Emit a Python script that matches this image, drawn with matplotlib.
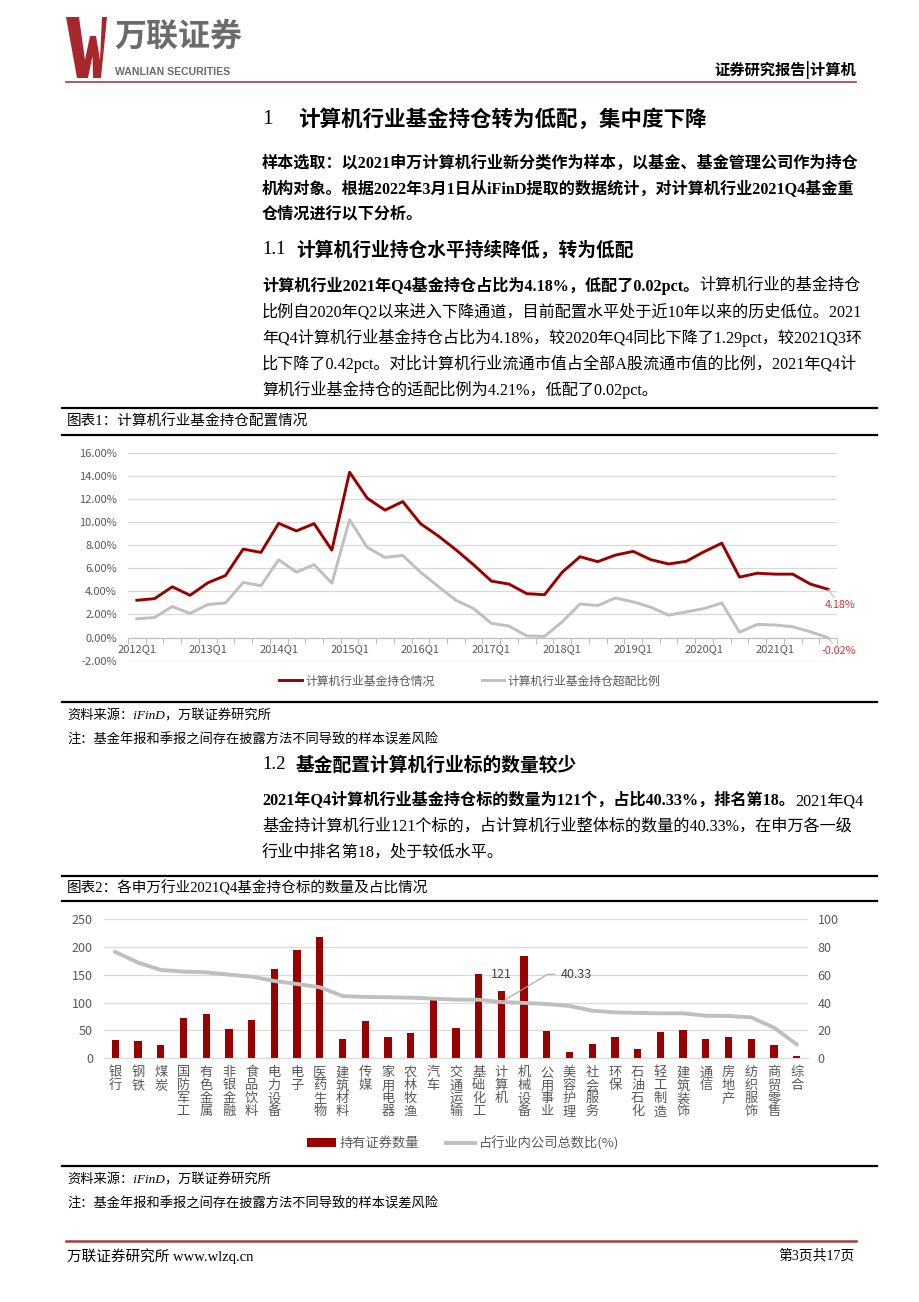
import matplotlib
matplotlib.use("Agg")
import matplotlib.pyplot as plt
from matplotlib.lines import Line2D
from matplotlib.patches import Polygon
import numpy as np

plt.rcParams['font.family'] = ['Noto Sans CJK SC', 'DejaVu Sans']
plt.rcParams['axes.unicode_minus'] = False

# --- 数据: 图表1 计算机行业基金持仓配置情况 (%) ---
quarter_ticks = [0, 4, 8, 12, 16, 20, 24, 28, 32, 36]
quarter_labels = ["2012Q1", "2013Q1", "2014Q1", "2015Q1", "2016Q1",
                  "2017Q1", "2018Q1", "2019Q1", "2020Q1", "2021Q1"]
hold_pct = [3.23, 3.37, 4.40, 3.66, 4.74, 5.37, 7.66, 7.37, 9.89, 9.23,
            9.86, 7.57, 14.31, 12.06, 11.03, 11.77, 9.86, 8.80, 7.60, 6.30,
            4.89, 4.63, 3.80, 3.71, 5.66, 7.00, 6.57, 7.14, 7.46, 6.74,
            6.37, 6.60, 7.43, 8.17, 5.23, 5.57, 5.49, 5.49, 4.63, 4.18]
over_pct = [1.63, 1.74, 2.69, 2.09, 2.86, 3.00, 4.77, 4.49, 6.74, 5.66,
            6.31, 4.71, 10.20, 7.80, 6.94, 7.11, 5.66, 4.43, 3.23, 2.51,
            1.23, 1.00, 0.14, 0.11, 1.37, 2.91, 2.77, 3.43, 3.09, 2.63,
            1.94, 2.23, 2.51, 3.00, 0.46, 1.14, 1.09, 0.94, 0.51, -0.02]

# --- 数据: 图表2 各申万行业2021Q4基金持仓标的数量及占比 ---
industries = ["银行", "钢铁", "煤炭", "国防军工", "有色金属", "非银金融", "食品饮料",
              "电力设备", "电子", "医药生物", "建筑材料", "传媒", "家用电器", "农林牧渔",
              "汽车", "交通运输", "基础化工", "计算机", "机械设备", "公用事业", "美容护理",
              "社会服务", "环保", "石油石化", "轻工制造", "建筑装饰", "通信", "房地产",
              "纺织服饰", "商贸零售", "综合"]
holdings = [32, 30, 24, 72, 79, 52, 69, 160, 194, 218, 34, 66, 38, 45, 105, 54,
            151, 121, 184, 49, 11, 26, 38, 16, 46, 50, 35, 38, 35, 23, 4]
ratio = [76.4, 68.8, 63.5, 62.3, 61.8, 60.1, 58.7, 55.5, 53.4, 51.0, 44.7, 44.0,
         43.8, 43.5, 42.8, 42.1, 42.0, 40.33, 39.7, 38.9, 37.5, 34.1, 32.9, 32.5,
         32.2, 32.2, 30.5, 30.3, 29.3, 21.9, 9.9]

W, H = 920, 1302
BODY = ['Liberation Serif', 'Noto Sans CJK SC']
RED = '#990000'
GREY = '#bfbfbf'
TICK = '#595959'

fig = plt.figure(figsize=(W / 100, H / 100), dpi=100)
renderer = fig.canvas.get_renderer()


def fx(x):
    return x / W


def fy(y):
    return 1 - y / H


def rule(y, x0, x1, color='black', lw=1.6):
    fig.add_artist(Line2D([fx(x0), fx(x1)], [fy(y), fy(y)], transform=fig.transFigure,
                          color=color, lw=lw))


def line_text(x, y, segs, size=11.6, family=BODY):
    # una riga con pezzi in grassetto e normali
    for s, bold in segs:
        t = fig.text(fx(x), fy(y), s, fontsize=size, family=family, va='center', ha='left',
                     fontweight='bold' if bold else 'normal', color='black')
        x = t.get_window_extent(renderer).x1


# --- Intestazione ---
logo = [(66, 17), (79, 17), (85, 60), (90, 36), (96, 36), (100, 60), (102, 17),
        (107, 17), (101, 78), (93, 78), (92.5, 56), (88, 78), (77, 78)]
fig.add_artist(Polygon([(fx(a), fy(b)) for a, b in logo], closed=True,
                       transform=fig.transFigure, color='#a8272d', lw=0))
fig.text(fx(114), fy(37), "万联证券", fontsize=23, fontweight='bold', color='#6b6b6b',
         va='center', ha='left')
fig.text(fx(115), fy(72), "WANLIAN SECURITIES", fontsize=7.6, fontweight='bold',
         color='#6b6b6b', family='Liberation Sans', va='center', ha='left')
fig.text(fx(856), fy(70), "证券研究报告|计算机", fontsize=11, fontweight='bold',
         va='center', ha='right')
rule(82, 66, 856, color='#a0403f', lw=1.2)

# --- Testo ---
fig.text(fx(262), fy(119), "1", fontsize=15.5, family='Liberation Serif', va='center')
fig.text(fx(298), fy(119), "计算机行业基金持仓转为低配，集中度下降", fontsize=15.5,
         fontweight='bold', va='center')

line_text(262, 164, [("样本选取：以2021申万计算机行业新分类作为样本，以基金、基金管理公司作为持仓", True)])
line_text(262, 190, [("机构对象。根据2022年3月1日从iFinD提取的数据统计，对计算机行业2021Q4基金重", True)])
line_text(262, 215, [("仓情况进行以下分析。", True)])

fig.text(fx(262), fy(250), "1.1", fontsize=13.5, family='Liberation Serif', va='center')
fig.text(fx(296), fy(250), "计算机行业持仓水平持续降低，转为低配", fontsize=13.5,
         fontweight='bold', va='center')

line_text(262, 286, [("计算机行业2021年Q4基金持仓占比为4.18%，低配了0.02pct。", True),
                     ("计算机行业的基金持仓", False)])
line_text(262, 312, [("比例自2020年Q2以来进入下降通道，目前配置水平处于近10年以来的历史低位。2021", False)])
line_text(262, 338, [("年Q4计算机行业基金持仓占比为4.18%，较2020年Q4同比下降了1.29pct，较2021Q3环", False)])
line_text(262, 364, [("比下降了0.42pct。对比计算机行业流通市值占全部A股流通市值的比例，2021年Q4计", False)])
line_text(262, 390, [("算机行业基金持仓的适配比例为4.21%，低配了0.02pct。", False)])

# --- Riquadro grafico 1 ---
rule(408, 62, 877)
fig.text(fx(67), fy(422), "图表1：计算机行业基金持仓配置情况", fontsize=10.5, family=BODY,
         va='center')
rule(435, 62, 877)

ax1 = fig.add_axes([fx(128), fy(660.7), (837 - 128) / W, 208 / H])
x = np.arange(len(hold_pct))
l1, = ax1.plot(x, hold_pct, color=RED, lw=2.1, label="计算机行业基金持仓情况")
l2, = ax1.plot(x, over_pct, color=GREY, lw=2.1, label="计算机行业基金持仓超配比例")
ax1.set_xlim(-0.5, 39.5)
ax1.set_ylim(-2, 16)
ax1.set_yticks(np.arange(-2, 17, 2))
ax1.set_yticklabels([f"{v:.2f}%" for v in np.arange(-2, 17, 2)])
ax1.set_xticks(quarter_ticks)
ax1.set_xticklabels(quarter_labels)
ax1.set_xticks(np.arange(-0.5, 40, 1), minor=True)
ax1.tick_params(axis='x', which='major', length=0, pad=5, labelsize=8, labelcolor=TICK)
ax1.tick_params(axis='x', which='minor', length=4, color=GREY, width=0.8)
ax1.tick_params(axis='y', length=0, pad=8, labelsize=8, labelcolor=TICK)
for s in ['top', 'right', 'left']:
    ax1.spines[s].set_visible(False)
ax1.spines['bottom'].set_position(('data', 0))
ax1.spines['bottom'].set_color(GREY)
ax1.yaxis.grid(True, color='#d9d9d9', lw=0.9)
ax1.set_axisbelow(True)
ax1.annotate(f"{hold_pct[-1]:.2f}%", xy=(39, hold_pct[-1]), xytext=(8.6, -11.5),
             textcoords='offset points', ha='center', va='center', fontsize=7.8,
             color='#e0302a', annotation_clip=False,
             arrowprops=dict(arrowstyle='-', color=GREY, lw=0.8, shrinkA=0, shrinkB=0))
ax1.annotate(f"{over_pct[-1]:.2f}%", xy=(39, over_pct[-1]), xytext=(7.5, -9.5),
             textcoords='offset points', ha='center', va='center', fontsize=7.8,
             color='#e0302a', annotation_clip=False,
             arrowprops=dict(arrowstyle='-', color=GREY, lw=0.8, shrinkA=0, shrinkB=0))
fig.legend(handles=[l1, l2], loc='center', bbox_to_anchor=(fx(470), fy(681)),
           ncol=2, frameon=False, fontsize=8.5, handlelength=1.9, handletextpad=0.3,
           columnspacing=4.0, labelcolor=TICK)

rule(702, 62, 877)
fig.text(fx(67), fy(716), "资料来源：iFinD，万联证券研究所", fontsize=9.5, family=BODY,
         va='center', style='italic')
fig.text(fx(67), fy(740), "注：基金年报和季报之间存在披露方法不同导致的样本误差风险", fontsize=9.5,
         family=BODY, va='center', style='italic')

fig.text(fx(262), fy(765), "1.2", fontsize=13.5, family='Liberation Serif', va='center')
fig.text(fx(296), fy(765), "基金配置计算机行业标的数量较少", fontsize=13.5,
         fontweight='bold', va='center')

line_text(262, 801, [("2021年Q4计算机行业基金持仓标的数量为121个，占比40.33%，排名第18。", True),
                     ("2021年Q4", False)])
line_text(262, 826, [("基金持计算机行业121个标的，占计算机行业整体标的数量的40.33%，在申万各一级", False)])
line_text(262, 852, [("行业中排名第18，处于较低水平。", False)])

# --- Riquadro grafico 2 ---
rule(876, 62, 877)
fig.text(fx(67), fy(888), "图表2：各申万行业2021Q4基金持仓标的数量及占比情况", fontsize=10.5,
         family=BODY, va='center')
rule(901, 62, 877)

ax2 = fig.add_axes([fx(104), fy(1058), 704 / W, 138.7 / H])
xi = np.arange(len(industries))
b = ax2.bar(xi, holdings, width=0.32, color=RED, label="持有证券数量")
ax2.set_xlim(-0.5, len(industries) - 0.5)
ax2.set_ylim(0, 250)
ax2.set_yticks(np.arange(0, 251, 50))
ax2.set_xticks(xi)
ax2.set_xticklabels(["\n".join(n) for n in industries], linespacing=1.0)
ax2.tick_params(axis='x', length=0, pad=6, labelsize=9.5, labelcolor=TICK)
ax2.tick_params(axis='y', length=0, pad=8, labelsize=9, labelcolor=TICK)
for s in ['top', 'right', 'left']:
    ax2.spines[s].set_visible(False)
ax2.spines['bottom'].set_color('#d9d9d9')
ax2.yaxis.grid(True, color='#d9d9d9', lw=0.9)
ax2.set_axisbelow(True)
ax2.annotate(str(holdings[17]), xy=(17, holdings[17]), xytext=(0, 11.5),
             textcoords='offset points', ha='center', va='center', fontsize=9,
             color='#404040')

ax2r = ax2.twinx()
l3, = ax2r.plot(xi, ratio, color=GREY, lw=2.8, label="占行业内公司总数比(%)")
ax2r.set_ylim(0, 100)
ax2r.set_yticks(np.arange(0, 101, 20))
ax2r.tick_params(axis='y', length=0, pad=7, labelsize=9, labelcolor=TICK)
for s in ['top', 'right', 'left', 'bottom']:
    ax2r.spines[s].set_visible(False)
ax2r.annotate(f"{ratio[17]:.2f}", xy=(17, ratio[17]), xytext=(42.5, 20),
              textcoords='offset points', ha='left', va='center', fontsize=9,
              color='#404040',
              arrowprops=dict(arrowstyle='-', color='#a6a6a6', lw=0.8, shrinkA=2, shrinkB=0,
                              connectionstyle='angle,angleA=0,angleB=31,rad=0'))
fig.legend(handles=[b, l3], loc='center', bbox_to_anchor=(fx(463), fy(1143)),
           ncol=2, frameon=False, fontsize=9.5, handlelength=2.2, handletextpad=0.3,
           columnspacing=2.0, labelcolor=TICK)

rule(1166, 62, 877)
fig.text(fx(67), fy(1180), "资料来源：iFinD，万联证券研究所", fontsize=9.5, family=BODY,
         va='center', style='italic')
fig.text(fx(67), fy(1204), "注：基金年报和季报之间存在披露方法不同导致的样本误差风险", fontsize=9.5,
         family=BODY, va='center', style='italic')

# --- Piè di pagina ---
rule(1241, 66, 856, color='#a0403f', lw=1.8)
fig.text(fx(67), fy(1256), "万联证券研究所 www.wlzq.cn", fontsize=10.5, family=BODY, va='center')
fig.text(fx(855), fy(1256), "第3页共17页", fontsize=10, family=BODY, va='center', ha='right')

fig.savefig("out.png", dpi=100)
